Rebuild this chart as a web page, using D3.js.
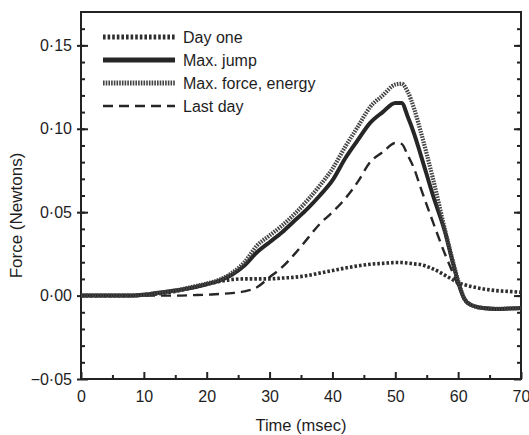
<!DOCTYPE html>
<html>
<head>
<meta charset="utf-8">
<script src="https://cdn.jsdelivr.net/npm/d3@7"></script>
<style>
  body { margin: 0; background: #fff; }
  text { font-family: "Liberation Sans", Arial, sans-serif; fill: #1e1e1e; }
</style>
</head>
<body>
<script>
// time (msec)
let time = [0, 5, 8, 10, 12, 15, 18, 20, 22, 24, 26, 28, 30, 32, 34, 36, 38, 40, 42, 44, 46, 48, 50, 51, 52, 53, 54, 56, 58, 59, 60, 61, 62, 64, 66, 68, 70]

let dayOne = [0, 0, 0, 0.0005, 0.001, 0.0025, 0.005, 0.0068, 0.0085, 0.0096, 0.0100, 0.0100, 0.0100, 0.0105, 0.011, 0.012, 0.0135, 0.015, 0.0165, 0.0178, 0.0188, 0.0193, 0.0198, 0.0198, 0.0195, 0.019, 0.0186, 0.016, 0.012, 0.0098, 0.0078, 0.0065, 0.0055, 0.004, 0.003, 0.0025, 0.002]

let maxJump = [0, 0, 0, 0.0005, 0.0015, 0.003, 0.005, 0.0068, 0.009, 0.0125, 0.018, 0.026, 0.032, 0.038, 0.045, 0.052, 0.060, 0.069, 0.082, 0.093, 0.1035, 0.110, 0.1155, 0.1155, 0.107, 0.097, 0.085, 0.060, 0.037, 0.022, 0.008, -0.002, -0.0055, -0.0075, -0.008, -0.0078, -0.0075]

let maxForce = [0, 0, 0, 0.0005, 0.0015, 0.003, 0.0055, 0.0072, 0.0095, 0.0135, 0.020, 0.030, 0.036, 0.042, 0.049, 0.057, 0.066, 0.076, 0.089, 0.101, 0.113, 0.120, 0.1265, 0.127, 0.122, 0.112, 0.099, 0.070, 0.038, 0.023, 0.009, -0.002, -0.0055, -0.0075, -0.008, -0.0078, -0.0075]

let lastDay = [0, 0, 0, 0, 0, 0, 0.0003, 0.0005, 0.001, 0.0015, 0.0025, 0.005, 0.011, 0.017, 0.025, 0.034, 0.043, 0.050, 0.058, 0.068, 0.080, 0.086, 0.0915, 0.091, 0.084, 0.076, 0.065, 0.044, 0.024, 0.015, 0.006, -0.002, -0.0055, -0.0075, -0.008, -0.0078, -0.0075]

let seriesNames = ["Day one", "Max. jump", "Max. force, energy", "Last day"]
let seriesValues = [dayOne, maxJump, maxForce, lastDay]

let xTicks = [0, 10, 20, 30, 40, 50, 60, 70]
let yTicks = [-0.05, 0, 0.05, 0.10, 0.15]

let width = 529, height = 435
let margin = {top: 12, right: 8, bottom: 56, left: 81}

let svg = d3.select("body").append("svg").attr("width", width).attr("height", height)

let x = d3.scaleLinear().domain([0, 70]).range([margin.left, width - margin.right])
let y = d3.scaleLinear().domain([-0.05, 0.17]).range([height - margin.bottom, margin.top])

let styles = [
  {color: "#2e2e2e", width: 3.6, dash: "2.6,2"},
  {color: "#262626", width: 4, dash: null},
  {color: "#444", width: 4.2, dash: "1.6,1.1"},
  {color: "#262626", width: 2.4, dash: "10,6"}
]

let fmtY = d => d3.format(".2f")(d).replace(".", "·")

// frame
svg.append("rect")
  .attr("x", x(0)).attr("y", y(0.17))
  .attr("width", x(70) - x(0)).attr("height", y(-0.05) - y(0.17))
  .attr("fill", "none").attr("stroke", "#222").attr("stroke-width", 2)

// minor ticks
let yMinor = d3.range(-0.04, 0.17, 0.01)
let xMinor = d3.range(5, 70, 10)

function styleAxis(g) {
  g.select(".domain").remove()
  g.selectAll("line").attr("stroke", "#222").attr("stroke-width", 2)
  g.selectAll("text").attr("font-size", 16).attr("fill", "#1e1e1e")
}

svg.append("g").attr("transform", `translate(${x(0)},0)`)
  .call(d3.axisLeft(y).tickValues(yMinor).tickSize(-4).tickFormat(""))
  .call(styleAxis)
svg.append("g").attr("transform", `translate(${x(0)},0)`)
  .call(d3.axisLeft(y).tickValues(yTicks).tickSize(-7).tickPadding(9).tickFormat(fmtY))
  .call(styleAxis)
  .selectAll("line").attr("x1", -4)
svg.append("g").attr("transform", `translate(${x(70)},0)`)
  .call(d3.axisRight(y).tickValues(yMinor).tickSize(-4).tickFormat(""))
  .call(styleAxis)
svg.append("g").attr("transform", `translate(${x(70)},0)`)
  .call(d3.axisRight(y).tickValues(yTicks).tickSize(-7).tickFormat(""))
  .call(styleAxis)
svg.append("g").attr("transform", `translate(0,${y(-0.05)})`)
  .call(d3.axisBottom(x).tickValues(xMinor).tickSize(-4).tickFormat(""))
  .call(styleAxis)
svg.append("g").attr("transform", `translate(0,${y(-0.05)})`)
  .call(d3.axisBottom(x).tickValues(xTicks).tickSize(-7).tickPadding(12).tickFormat(d3.format("d")))
  .call(styleAxis)

// axis titles
svg.append("text")
  .attr("x", (x(0) + x(70)) / 2).attr("y", 431)
  .attr("text-anchor", "middle").attr("font-size", 16.5)
  .text("Time (msec)")
svg.append("text")
  .attr("transform", `translate(22,${y(0.048)}) rotate(-90)`)
  .attr("text-anchor", "middle").attr("font-size", 17)
  .text("Force (Newtons)")

// curves
let line = d3.line()
  .x((d, i) => x(time[i]))
  .y(d => y(d))
  .curve(d3.curveMonotoneX)

let drawOrder = [0, 3, 1, 2]
svg.append("g").selectAll("path")
  .data(drawOrder)
  .join("path")
  .attr("d", k => line(seriesValues[k]))
  .attr("fill", "none")
  .attr("stroke", k => styles[k].color)
  .attr("stroke-width", k => styles[k].width)
  .attr("stroke-dasharray", k => styles[k].dash)
  .attr("stroke-linejoin", "round")

// legend
let legend = svg.append("g").selectAll("g")
  .data(seriesNames)
  .join("g")
  .attr("transform", (d, i) => `translate(103,${37 + i * 23})`)
legend.append("line")
  .attr("x1", 0).attr("x2", 72)
  .attr("stroke", (d, i) => styles[i].color)
  .attr("stroke-width", (d, i) => i == 3 ? 2.6 : 5)
  .attr("stroke-dasharray", (d, i) => styles[i].dash)
legend.append("text")
  .attr("x", 80).attr("dy", "0.35em")
  .attr("font-size", 16)
  .text(d => d)
</script>
</body>
</html>
